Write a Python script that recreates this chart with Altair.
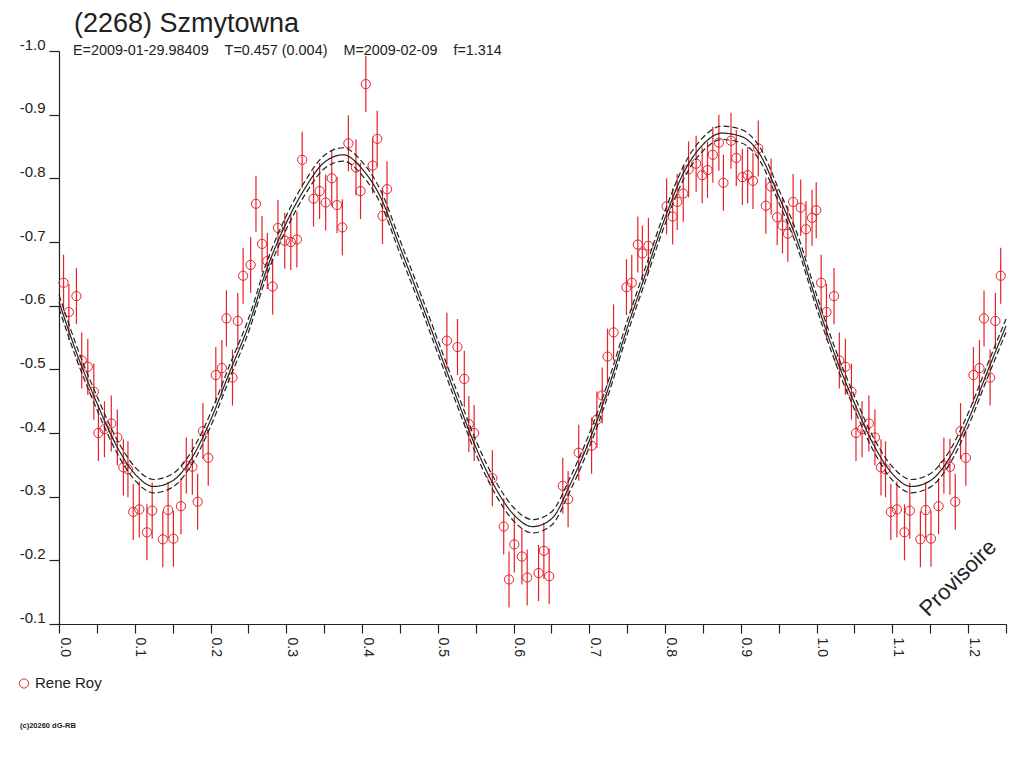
import pandas as pd
import altair as alt

# (2268) Szmytowna - lightcurve folded on the period (phase 0 .. 1.25)

# observations by Rene Roy, phase 0..1 (phase < 0.25 is repeated after 1.0)
obs_phase = [0.006, 0.013, 0.023, 0.030, 0.038, 0.046, 0.052, 0.060, 0.069, 0.077,
             0.085, 0.091, 0.098, 0.106, 0.116, 0.123, 0.137, 0.144, 0.151, 0.161,
             0.168, 0.176, 0.183, 0.190, 0.197, 0.207, 0.215, 0.221, 0.229, 0.236,
             0.243, 0.253, 0.260, 0.268, 0.275, 0.282, 0.289, 0.298, 0.306, 0.314,
             0.321, 0.336, 0.344, 0.352, 0.360, 0.367, 0.374, 0.382, 0.392, 0.398,
             0.405, 0.414, 0.420, 0.427, 0.433, 0.512, 0.526, 0.535, 0.541, 0.548,
             0.572, 0.587, 0.594, 0.601, 0.611, 0.618, 0.633, 0.640, 0.647, 0.665,
             0.672, 0.686, 0.703, 0.710, 0.717, 0.724, 0.732, 0.749, 0.756, 0.764,
             0.770, 0.778, 0.802, 0.810, 0.816, 0.824, 0.831, 0.841, 0.849, 0.856,
             0.863, 0.871, 0.877, 0.887, 0.894, 0.902, 0.909, 0.916, 0.923, 0.933,
             0.940, 0.948, 0.955, 0.962, 0.969, 0.979, 0.986, 0.994, 0.9995]
obs_mag = [-0.636, -0.590, -0.615, -0.514, -0.504, -0.465, -0.400, -0.406, -0.415, -0.393,
           -0.346, -0.343, -0.276, -0.280, -0.244, -0.278, -0.233, -0.279, -0.234, -0.285,
           -0.349, -0.347, -0.292, -0.403, -0.361, -0.491, -0.502, -0.580, -0.487, -0.576,
           -0.647, -0.664, -0.760, -0.697, -0.670, -0.630, -0.722, -0.702, -0.700, -0.704,
           -0.829, -0.768, -0.780, -0.762, -0.800, -0.758, -0.723, -0.855, -0.817, -0.780,
           -0.948, -0.820, -0.862, -0.741, -0.783, -0.545, -0.535, -0.485, -0.414, -0.400,
           -0.329, -0.253, -0.170, -0.225, -0.206, -0.173, -0.180, -0.215, -0.175, -0.317,
           -0.296, -0.369, -0.380, -0.421, -0.459, -0.520, -0.558, -0.629, -0.636, -0.696,
           -0.682, -0.694, -0.756, -0.740, -0.763, -0.776, -0.814, -0.823, -0.805, -0.813,
           -0.837, -0.856, -0.793, -0.859, -0.832, -0.802, -0.805, -0.796, -0.847, -0.757,
           -0.787, -0.739, -0.726, -0.713, -0.763, -0.754, -0.720, -0.738, -0.750]
obs_err = 0.044

# fitted curve and its two error curves, read every 0.025 in phase
fit_phase = [0.000, 0.025, 0.050, 0.075, 0.100, 0.125, 0.150, 0.175, 0.200, 0.225,
             0.250, 0.275, 0.300, 0.325, 0.350, 0.375, 0.400, 0.425, 0.450, 0.475,
             0.500, 0.525, 0.550, 0.575, 0.600, 0.625, 0.650, 0.675, 0.700, 0.725,
             0.750, 0.775, 0.800, 0.825, 0.850, 0.875, 0.900, 0.925, 0.950, 0.975, 1.000]
fit_mid = [-0.606, -0.520, -0.447, -0.382, -0.336, -0.316, -0.325, -0.360, -0.420, -0.495,
           -0.568, -0.660, -0.730, -0.785, -0.825, -0.837, -0.815, -0.769, -0.692, -0.615,
           -0.535, -0.455, -0.378, -0.316, -0.272, -0.253, -0.265, -0.320, -0.388, -0.470,
           -0.565, -0.652, -0.738, -0.810, -0.853, -0.871, -0.866, -0.838, -0.772, -0.700, -0.606]
fit_hi = [-0.617, -0.531, -0.458, -0.393, -0.347, -0.327, -0.336, -0.371, -0.431, -0.506,
          -0.579, -0.671, -0.741, -0.796, -0.836, -0.848, -0.826, -0.780, -0.703, -0.626,
          -0.546, -0.466, -0.389, -0.327, -0.283, -0.264, -0.276, -0.331, -0.399, -0.481,
          -0.576, -0.663, -0.749, -0.821, -0.864, -0.882, -0.877, -0.849, -0.783, -0.711, -0.617]
fit_lo = [-0.596, -0.510, -0.437, -0.372, -0.326, -0.306, -0.315, -0.350, -0.410, -0.485,
          -0.558, -0.650, -0.720, -0.775, -0.815, -0.827, -0.805, -0.759, -0.682, -0.605,
          -0.525, -0.445, -0.368, -0.306, -0.262, -0.243, -0.255, -0.310, -0.378, -0.460,
          -0.555, -0.642, -0.728, -0.800, -0.843, -0.861, -0.856, -0.828, -0.762, -0.690, -0.596]

x_ticks = [0.0, 0.05, 0.1, 0.15, 0.2, 0.25, 0.3, 0.35, 0.4, 0.45, 0.5, 0.55, 0.6,
           0.65, 0.7, 0.75, 0.8, 0.85, 0.9, 0.95, 1.0, 1.05, 1.1, 1.15, 1.2, 1.25]
y_ticks = [-1.0, -0.9, -0.8, -0.7, -0.6, -0.5, -0.4, -0.3, -0.2, -0.1]

title = '(2268) Szmytowna'
# wide gaps kept with non-breaking spaces (svg collapses normal ones)
gap = '\u00a0' * 4
info = gap.join(['E=2009-01-29.98409', 'T=0.457 (0.004)', 'M=2009-02-09', 'f=1.314'])
observer = 'Rene Roy'
credit = '(c)20260 dG-RB'
stamp = 'Provisoire'

red = '#e62129'
ink = '#222222'

#%%
# repeat the start of the cycle after phase 1.0
obs = pd.DataFrame({'phase': obs_phase, 'mag': obs_mag})
wrap = obs[obs['phase'] + 1 <= 1.25].copy()
wrap['phase'] = wrap['phase'] + 1
obs = pd.concat([obs, wrap], ignore_index=True)
obs['lo'] = obs['mag'] - obs_err
obs['hi'] = obs['mag'] + obs_err

fit = pd.DataFrame({'phase': fit_phase, 'mid': fit_mid, 'hi': fit_hi, 'lo': fit_lo})
fit_wrap = fit[(fit['phase'] > 0) & (fit['phase'] <= 0.25)].copy()
fit_wrap['phase'] = fit_wrap['phase'] + 1
fit = pd.concat([fit, fit_wrap], ignore_index=True)

xs = alt.Scale(domain=[0, 1.25], nice=False, zero=False)
ys = alt.Scale(domain=[-1.0, -0.1], reverse=True, nice=False, zero=False)

x_axis = alt.Axis(values=x_ticks, title=None, grid=False,
                  labelExpr="round(datum.value * 20) % 2 == 0 ? format(datum.value, '.1f') : ''",
                  labelAngle=90, labelAlign='left', labelBaseline='alphabetic',
                  labelOffset=1, labelPadding=4, tickSize=9, labelFontSize=14,
                  labelOverlap=False, labelFlush=False)
y_axis = alt.Axis(values=y_ticks, title=None, grid=False,
                  labelExpr="'-' + format(abs(datum.value), '.1f')",
                  labelBaseline='alphabetic', labelOffset=-2, labelPadding=4,
                  tickSize=10, labelFontSize=15, labelOverlap=False, labelFlush=False)

bars = alt.Chart(obs).mark_rule(color=red, strokeWidth=1.2).encode(
    x=alt.X('phase:Q', scale=xs, axis=x_axis),
    y=alt.Y('lo:Q', scale=ys, axis=y_axis),
    y2='hi:Q'
)

points = alt.Chart(obs).mark_point(shape='circle', filled=False, color=red,
                                   size=85, strokeWidth=1, opacity=1).encode(
    x=alt.X('phase:Q', scale=xs, axis=x_axis),
    y=alt.Y('mag:Q', scale=ys, axis=y_axis)
)

def fit_line(col, dash):
    return alt.Chart(fit).mark_line(color=ink, strokeWidth=1.2, strokeDash=dash,
                                    interpolate='monotone').encode(
        x=alt.X('phase:Q', scale=xs, axis=x_axis),
        y=alt.Y(col + ':Q', scale=ys, axis=y_axis)
    )

curve = fit_line('mid', [1, 0])
curve_hi = fit_line('hi', [6, 3])
curve_lo = fit_line('lo', [6, 3])

def note(text, x, y, size, **kw):
    return alt.Chart(pd.DataFrame({'t': [text]})).mark_text(
        fontSize=size, color=ink, font='Liberation Sans', **kw
    ).encode(text='t:N', x=alt.value(x), y=alt.value(y))

title_txt = note(title, 15, -19, 27, align='left', baseline='alphabetic')
info_txt = note(info, 14, 4, 14.4, align='left', baseline='alphabetic')
observer_txt = note(observer, -24, 637, 15, align='left', baseline='alphabetic')
credit_txt = note(credit, -39, 677, 7.5, align='left', baseline='alphabetic', fontWeight='bold')
stamp_txt = note(stamp, 899, 527, 22, align='center', baseline='middle', angle=315)

legend_dot = alt.Chart(pd.DataFrame({'t': [observer]})).mark_point(
    shape='circle', filled=False, color=red, size=85, strokeWidth=1, opacity=1
).encode(x=alt.value(-35), y=alt.value(632.5))

chart = alt.layer(
    bars, points, curve_hi, curve_lo, curve,
    title_txt, info_txt, observer_txt, credit_txt, stamp_txt, legend_dot
).properties(
    width=947,
    height=573,
    autosize=alt.AutoSizeParams(type='none'),
    padding={'left': 51, 'top': 43, 'right': 10, 'bottom': 137}
).configure_view(
    stroke=None
).configure_axis(
    domainColor=ink, tickColor=ink, labelColor=ink, domainWidth=1.2, tickWidth=1.2,
    labelFont='Liberation Sans'
)

chart.save('out.html', embed_options={'renderer': 'svg', 'actions': False})
